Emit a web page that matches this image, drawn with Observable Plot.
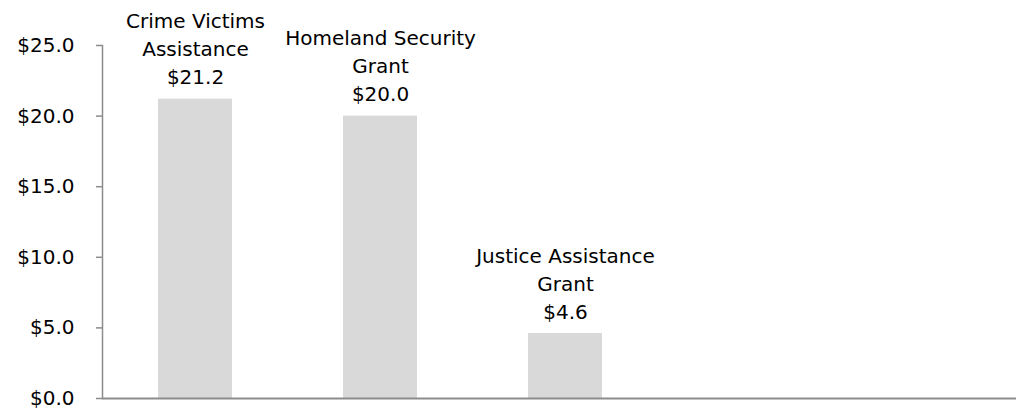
<!DOCTYPE html>
<html>
<head>
<meta charset="utf-8">
<script src="https://cdn.jsdelivr.net/npm/d3@7"></script>
<script src="https://cdn.jsdelivr.net/npm/@observablehq/plot@0.6"></script>
<style>
  html, body { margin: 0; padding: 0; background: #fff; }
  #chart svg { display: block; }
</style>
</head>
<body>
<div id="chart"></div>
<script>
const categories = ["Crime Victims\nAssistance", "Homeland Security\nGrant", "Justice Assistance\nGrant"];
const values = [21.2, 20.0, 4.6];
const yTicks = [0, 5, 10, 15, 20, 25];

const data = categories.map((c, i) => ({category: c, value: values[i]}));
const fmt = v => "$" + v.toFixed(1);

const chart = Plot.plot({
  width: 1016,
  height: 411,
  marginLeft: 102,
  marginRight: 0,
  marginTop: 45,
  marginBottom: 13,
  style: {fontFamily: "'Century Gothic', 'DejaVu Sans', sans-serif", fontSize: "20px", color: "#000", background: "#fff"},
  x: {domain: categories, range: [102, 658], paddingInner: 0.6, paddingOuter: 0.3, axis: null},
  y: {domain: [0, 25], label: null},
  marks: [
    Plot.barY(data, {x: "category", y: "value", fill: "#d9d9d9"}),
    Plot.frame({anchor: "left", stroke: "#8c8c8c", strokeWidth: 1.5}),
    Plot.axisY({ticks: yTicks, tickFormat: fmt, label: null, tickSize: 6, tickPadding: 22, stroke: "#8c8c8c", strokeWidth: 1.5, strokeOpacity: 1, fill: "#000", fontSize: 20}),
    Plot.ruleY([0], {stroke: "#8c8c8c", strokeWidth: 2}),
    Plot.text(data, {x: "category", y: "value", text: d => d.category + "\n" + fmt(d.value), lineAnchor: "bottom", lineHeight: 1.4, dy: -15, fill: "#000", fontSize: 20})
  ]
});
document.getElementById("chart").appendChild(chart);
</script>
</body>
</html>
